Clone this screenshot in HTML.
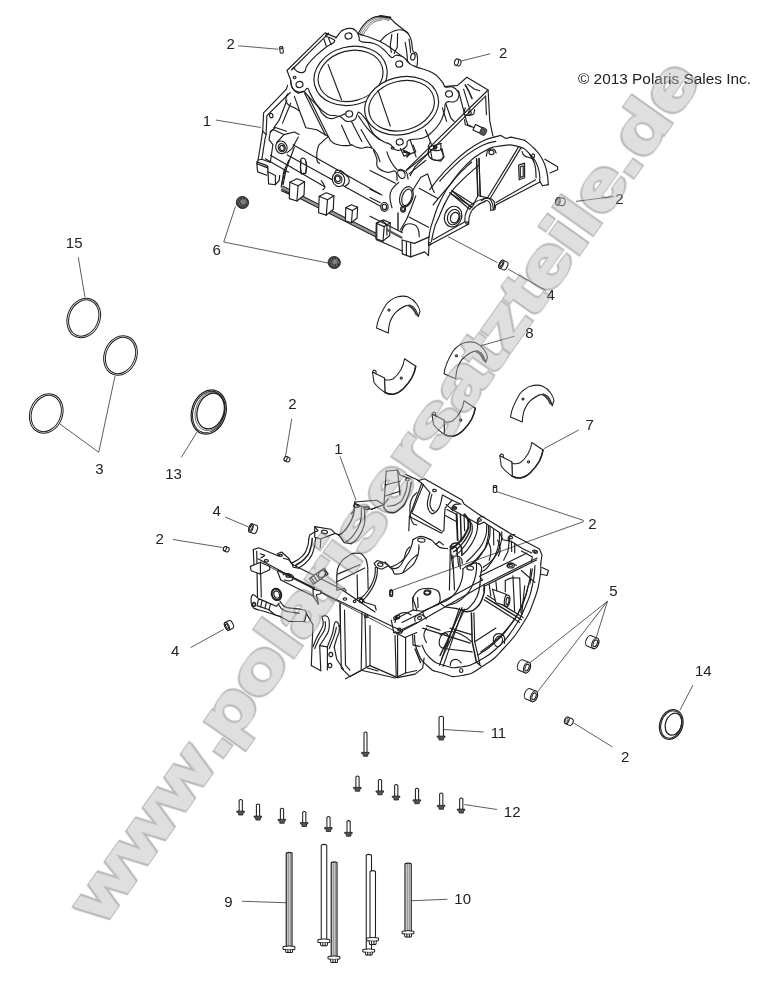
<!DOCTYPE html>
<html><head><meta charset="utf-8"><title>Crankcase</title>
<style>
html,body{margin:0;padding:0;background:#fff;}
body{width:767px;height:983px;overflow:hidden;font-family:"Liberation Sans",sans-serif;}
svg{display:block;filter:grayscale(1)}
.l{stroke:#1e1e1e;stroke-width:1.05;fill:none;stroke-linecap:round;stroke-linejoin:round}
.f{stroke:#1e1e1e;stroke-width:1.05;fill:#fff;stroke-linecap:round;stroke-linejoin:round}
.k{stroke:#222;stroke-width:1.5;fill:none;stroke-linecap:round;stroke-linejoin:round}
.ld{stroke:#333;stroke-width:0.8;fill:none}
#upper .l,#upper .f,#lower .l,#lower .f{stroke-width:1.15}
.t{font-family:"Liberation Sans",sans-serif;font-size:15px;fill:#222}
</style></head><body>
<svg width="767" height="983" viewBox="0 0 767 983">
<rect width="767" height="983" fill="#fff"/>

<g class="ld">
<line x1="238.25" y1="45.75" x2="278.25" y2="49.25"/>
<line x1="490.25" y1="53.75" x2="460.25" y2="61.25"/>
<line x1="215.75" y1="120" x2="260.75" y2="127.5"/>
<line x1="576" y1="201.4" x2="614.2" y2="196.5"/>
<line x1="223.75" y1="242" x2="235.5" y2="206.25"/>
<line x1="223.75" y1="242" x2="328" y2="263"/>
<line x1="508.2" y1="269.2" x2="545.7" y2="290.4"/>
<line x1="448" y1="236.6" x2="497.5" y2="262.7"/>
<line x1="78.25" y1="257.25" x2="85" y2="297.25"/>
<line x1="98.75" y1="452.25" x2="115" y2="376"/>
<line x1="98.75" y1="452.25" x2="59.25" y2="423.5"/>
<line x1="181.25" y1="457.5" x2="197.5" y2="431.25"/>
<line x1="291.75" y1="418.75" x2="285.5" y2="456.25"/>
<line x1="225" y1="517" x2="248.75" y2="527"/>
<line x1="173" y1="539.5" x2="222.5" y2="547.5"/>
<line x1="514.5" y1="336.25" x2="474.5" y2="347.5"/>
<line x1="578.75" y1="430" x2="543.75" y2="448.75"/>
<line x1="340" y1="456.3" x2="356" y2="500.3"/>
<line x1="583.75" y1="520.5" x2="497" y2="491.75"/>
<line x1="583.75" y1="521.5" x2="393" y2="590"/>
<line x1="607.5" y1="601.25" x2="596.25" y2="637.5"/>
<line x1="607.5" y1="601.25" x2="528.75" y2="663.75"/>
<line x1="607.5" y1="601.25" x2="537" y2="692.5"/>
<line x1="190.5" y1="647.7" x2="223.8" y2="629.3"/>
<line x1="573.75" y1="723" x2="612.5" y2="747"/>
<line x1="693" y1="685" x2="680" y2="710"/>
<line x1="443.75" y1="729.5" x2="483.75" y2="732"/>
<line x1="464.25" y1="804.5" x2="497" y2="809.5"/>
<line x1="242" y1="901.25" x2="286.25" y2="902.75"/>
<line x1="411.25" y1="900.75" x2="447.5" y2="899.25"/>
</g>
<g transform="translate(83.75,318) rotate(22)" class="l" style="stroke-width:1"><ellipse rx="16.2" ry="20.3"/><ellipse rx="14.5" ry="18.6"/></g>
<g transform="translate(120.5,355.5) rotate(22)" class="l" style="stroke-width:1"><ellipse rx="16.2" ry="20.3"/><ellipse rx="14.5" ry="18.6"/></g>
<g transform="translate(46.25,413.5) rotate(22)" class="l" style="stroke-width:1"><ellipse rx="16.2" ry="20.3"/><ellipse rx="14.5" ry="18.6"/></g>
<g transform="translate(208.75,412) rotate(18)" class="l"><ellipse rx="17" ry="22.6" style="stroke-width:1.2"/><ellipse rx="15.6" ry="21.2"/><ellipse cx="1.5" cy="-1.5" rx="13.2" ry="18.2" style="stroke-width:1.3"/><ellipse cx="1" cy="-1" rx="14.4" ry="19.6" style="stroke-width:.6"/></g>
<g transform="translate(671.25,724.5) rotate(18)" class="l"><ellipse rx="11.4" ry="15.2" style="stroke-width:1.2"/><ellipse rx="10.2" ry="14"/><ellipse cx="2" cy="-1" rx="8" ry="11.2" style="stroke-width:1.2"/></g>
<g transform="translate(281.5,50) rotate(82)" class="f"><path d="M-2.25,-1.6 L2.25,-1.6 A0.96,1.6 0 0 1 2.25,1.6 L-2.25,1.6 A0.96,1.6 0 0 1 -2.25,-1.6 Z"/><ellipse cx="-2.25" cy="0" rx="0.96" ry="1.6"/></g>
<g transform="translate(457.75,62.5) rotate(15)" class="f"><path d="M-1.25,-3.25 L1.25,-3.25 A1.95,3.25 0 0 1 1.25,3.25 L-1.25,3.25 A1.95,3.25 0 0 1 -1.25,-3.25 Z"/><ellipse cx="-1.25" cy="0" rx="1.95" ry="3.25"/></g>
<g transform="translate(560.4,201.7) rotate(8)" class="f"><path d="M-2.5,-3.75 L2.5,-3.75 A2.25,3.75 0 0 1 2.5,3.75 L-2.5,3.75 A2.25,3.75 0 0 1 -2.5,-3.75 Z"/><ellipse cx="-2.5" cy="0" rx="2.25" ry="3.75"/><ellipse cx="-2.5" cy="0" rx="1.125" ry="2.0625" style="stroke-width:.6"/></g>
<g transform="translate(287,459.25) rotate(25)" class="f"><path d="M-1.5,-2.3 L1.5,-2.3 A1.38,2.3 0 0 1 1.5,2.3 L-1.5,2.3 A1.38,2.3 0 0 1 -1.5,-2.3 Z"/><ellipse cx="-1.5" cy="0" rx="1.38" ry="2.3"/></g>
<g transform="translate(226.25,549.25) rotate(25)" class="f"><path d="M-1.5,-2.3 L1.5,-2.3 A1.38,2.3 0 0 1 1.5,2.3 L-1.5,2.3 A1.38,2.3 0 0 1 -1.5,-2.3 Z"/><ellipse cx="-1.5" cy="0" rx="1.38" ry="2.3"/></g>
<g transform="translate(495,489) rotate(90)" class="f"><path d="M-2.5,-1.7 L2.5,-1.7 A1.02,1.7 0 0 1 2.5,1.7 L-2.5,1.7 A1.02,1.7 0 0 1 -2.5,-1.7 Z"/><ellipse cx="-2.5" cy="0" rx="1.02" ry="1.7"/></g>
<g transform="translate(391.2,593.4) rotate(90)" class="f"><path d="M-2.25,-1.5 L2.25,-1.5 A0.8999999999999999,1.5 0 0 1 2.25,1.5 L-2.25,1.5 A0.8999999999999999,1.5 0 0 1 -2.25,-1.5 Z"/><ellipse cx="-2.25" cy="0" rx="0.8999999999999999" ry="1.5"/></g>
<g transform="translate(568.9,721.25) rotate(25)" class="f"><path d="M-2.25,-3.5 L2.25,-3.5 A2.1,3.5 0 0 1 2.25,3.5 L-2.25,3.5 A2.1,3.5 0 0 1 -2.25,-3.5 Z"/><ellipse cx="-2.25" cy="0" rx="2.1" ry="3.5"/><ellipse cx="-2.25" cy="0" rx="1.05" ry="1.9250000000000003" style="stroke-width:.6"/></g>
<g transform="translate(253,528.75) rotate(20)" class="f"><path d="M-2.15,-4.3 L2.365,-4.3 A1.935,4.3 0 0 1 2.365,4.3 L-2.15,4.3 A1.935,4.3 0 0 1 -2.15,-4.3 Z"/><ellipse cx="-2.15" cy="0" rx="1.935" ry="4.3"/><ellipse cx="-2.15" cy="0" rx="1.075" ry="2.5799999999999996"/></g>
<g transform="translate(503.3,265) rotate(25)" class="f"><path d="M-2.15,-4.3 L2.365,-4.3 A1.935,4.3 0 0 1 2.365,4.3 L-2.15,4.3 A1.935,4.3 0 0 1 -2.15,-4.3 Z"/><ellipse cx="-2.15" cy="0" rx="1.935" ry="4.3"/><ellipse cx="-2.15" cy="0" rx="1.075" ry="2.5799999999999996"/></g>
<g transform="translate(228.9,625.4) rotate(-25)" class="f"><path d="M-2.15,-4.3 L2.365,-4.3 A1.935,4.3 0 0 1 2.365,4.3 L-2.15,4.3 A1.935,4.3 0 0 1 -2.15,-4.3 Z"/><ellipse cx="-2.15" cy="0" rx="1.935" ry="4.3"/><ellipse cx="-2.15" cy="0" rx="1.075" ry="2.5799999999999996"/></g>
<g transform="translate(592,642) rotate(22)" class="f"><path d="M-3,-5.6 L3.5,-5.6 A3.2,5.6 0 0 1 3.5,5.6 L-3,5.6 A3.2,5.6 0 0 1 -3,-5.6 Z"/><ellipse cx="3.5" cy="0" rx="3.2" ry="5.6"/><ellipse cx="3.5" cy="0" rx="1.9" ry="3.6"/></g>
<g transform="translate(523.75,666.25) rotate(22)" class="f"><path d="M-3,-5.6 L3.5,-5.6 A3.2,5.6 0 0 1 3.5,5.6 L-3,5.6 A3.2,5.6 0 0 1 -3,-5.6 Z"/><ellipse cx="3.5" cy="0" rx="3.2" ry="5.6"/><ellipse cx="3.5" cy="0" rx="1.9" ry="3.6"/></g>
<g transform="translate(530.75,695) rotate(22)" class="f"><path d="M-3,-5.6 L3.5,-5.6 A3.2,5.6 0 0 1 3.5,5.6 L-3,5.6 A3.2,5.6 0 0 1 -3,-5.6 Z"/><ellipse cx="3.5" cy="0" rx="3.2" ry="5.6"/><ellipse cx="3.5" cy="0" rx="1.9" ry="3.6"/></g>
<g transform="translate(242.5,202.5)"><ellipse rx="6.2" ry="6" fill="#3a3a3a" stroke="#222" stroke-width="0.8" transform="rotate(20)"/><ellipse cx="0.8" cy="-0.6" rx="3.3" ry="3.2" fill="#777" stroke="#111" stroke-width="0.7"/><path d="M-4.5,-2 L-2,3.5 M-3,-4 L0.5,4.8 M-0.5,-5 L3,4 M2,-5 L5,1.5" stroke="#999" stroke-width="0.6" fill="none"/></g>
<g transform="translate(334.25,262.5)"><ellipse rx="6.2" ry="6" fill="#3a3a3a" stroke="#222" stroke-width="0.8" transform="rotate(20)"/><ellipse cx="0.8" cy="-0.6" rx="3.3" ry="3.2" fill="#777" stroke="#111" stroke-width="0.7"/><path d="M-4.5,-2 L-2,3.5 M-3,-4 L0.5,4.8 M-0.5,-5 L3,4 M2,-5 L5,1.5" stroke="#999" stroke-width="0.6" fill="none"/></g>
<g transform="translate(376.5,328)"><path class="f" d="M0,0 C0.5,-5 1.75,-10.5 9.25,-23 C13,-27.5 17,-30 20.5,-31 C24,-32 28,-32.3 31.75,-31 C36,-29 38.5,-26.5 40,-24.25 C42,-21.5 43,-19 43.5,-16.75 L41.75,-11.25 C41,-14 40.3,-16 39.25,-18 C38,-20.5 36,-22 34.25,-22.5 C31.5,-23 29,-22.3 26.75,-21 C23,-19 20,-16.5 18,-14.25 C15,-10 13.6,-7 13,-4.25 C12.2,-1 11.9,2 11.75,5 Z"/><path class="l" d="M31,-22.6 C34,-21.6 37,-19 39.5,-13.5 M33,-23 C36,-21 38.5,-18 40.8,-12.5" style="stroke-width:1.4;stroke:#444"/><path class="l" d="M13.5,-6 C16,-14 22,-20 30,-22.5" style="stroke-width:.6"/><circle class="l" cx="12.5" cy="-18" r="1"/></g>
<g transform="translate(444,373.75)"><path class="f" d="M0,0 C0.5,-5 1.75,-10.5 9.25,-23 C13,-27.5 17,-30 20.5,-31 C24,-32 28,-32.3 31.75,-31 C36,-29 38.5,-26.5 40,-24.25 C42,-21.5 43,-19 43.5,-16.75 L41.75,-11.25 C41,-14 40.3,-16 39.25,-18 C38,-20.5 36,-22 34.25,-22.5 C31.5,-23 29,-22.3 26.75,-21 C23,-19 20,-16.5 18,-14.25 C15,-10 13.6,-7 13,-4.25 C12.2,-1 11.9,2 11.75,5 Z"/><path class="l" d="M31,-22.6 C34,-21.6 37,-19 39.5,-13.5 M33,-23 C36,-21 38.5,-18 40.8,-12.5" style="stroke-width:1.4;stroke:#444"/><path class="l" d="M13.5,-6 C16,-14 22,-20 30,-22.5" style="stroke-width:.6"/><circle class="l" cx="12.5" cy="-18" r="1"/></g>
<g transform="translate(510.5,417)"><path class="f" d="M0,0 C0.5,-5 1.75,-10.5 9.25,-23 C13,-27.5 17,-30 20.5,-31 C24,-32 28,-32.3 31.75,-31 C36,-29 38.5,-26.5 40,-24.25 C42,-21.5 43,-19 43.5,-16.75 L41.75,-11.25 C41,-14 40.3,-16 39.25,-18 C38,-20.5 36,-22 34.25,-22.5 C31.5,-23 29,-22.3 26.75,-21 C23,-19 20,-16.5 18,-14.25 C15,-10 13.6,-7 13,-4.25 C12.2,-1 11.9,2 11.75,5 Z"/><path class="l" d="M31,-22.6 C34,-21.6 37,-19 39.5,-13.5 M33,-23 C36,-21 38.5,-18 40.8,-12.5" style="stroke-width:1.4;stroke:#444"/><path class="l" d="M13.5,-6 C16,-14 22,-20 30,-22.5" style="stroke-width:.6"/><circle class="l" cx="12.5" cy="-18" r="1"/></g>
<g transform="translate(372.5,372)"><path class="f" d="M12,6 L12.5,20.5 C15,21.8 18,22.4 20.75,22.25 C24.5,21.5 28,19.5 30.75,16.75 C34.5,13 37.5,9 39.5,5.5 C41.5,1.5 42.7,-2.5 43.25,-5.75 L32,-13.25 C31.5,-9 30.3,-5.5 28.25,-2 C26,1.8 23.5,4.8 20.75,6.75 C18,8.3 15,8.3 12,7.5 Z"/><path class="f" d="M0,0 L12,6 L12.5,20.5 C8,17.5 4,14 1.5,10.5 Z"/><path class="k" d="M12.5,20.5 C15,21.8 18,22.4 20.75,22.25 C24.5,21.5 28,19.5 30.75,16.75 C34.5,13 37.5,9 39.5,5.5 C41.5,1.5 42.7,-2.5 43.25,-5.75"/><path class="l" d="M0,0 L1.5,-2 L3.5,-1 L3.5,1.7"/><circle class="l" cx="28.75" cy="6" r="1.1"/></g>
<g transform="translate(432,414)"><path class="f" d="M12,6 L12.5,20.5 C15,21.8 18,22.4 20.75,22.25 C24.5,21.5 28,19.5 30.75,16.75 C34.5,13 37.5,9 39.5,5.5 C41.5,1.5 42.7,-2.5 43.25,-5.75 L32,-13.25 C31.5,-9 30.3,-5.5 28.25,-2 C26,1.8 23.5,4.8 20.75,6.75 C18,8.3 15,8.3 12,7.5 Z"/><path class="f" d="M0,0 L12,6 L12.5,20.5 C8,17.5 4,14 1.5,10.5 Z"/><path class="k" d="M12.5,20.5 C15,21.8 18,22.4 20.75,22.25 C24.5,21.5 28,19.5 30.75,16.75 C34.5,13 37.5,9 39.5,5.5 C41.5,1.5 42.7,-2.5 43.25,-5.75"/><path class="l" d="M0,0 L1.5,-2 L3.5,-1 L3.5,1.7"/><circle class="l" cx="28.75" cy="6" r="1.1"/></g>
<g transform="translate(499.8,455.75)"><path class="f" d="M12,6 L12.5,20.5 C15,21.8 18,22.4 20.75,22.25 C24.5,21.5 28,19.5 30.75,16.75 C34.5,13 37.5,9 39.5,5.5 C41.5,1.5 42.7,-2.5 43.25,-5.75 L32,-13.25 C31.5,-9 30.3,-5.5 28.25,-2 C26,1.8 23.5,4.8 20.75,6.75 C18,8.3 15,8.3 12,7.5 Z"/><path class="f" d="M0,0 L12,6 L12.5,20.5 C8,17.5 4,14 1.5,10.5 Z"/><path class="k" d="M12.5,20.5 C15,21.8 18,22.4 20.75,22.25 C24.5,21.5 28,19.5 30.75,16.75 C34.5,13 37.5,9 39.5,5.5 C41.5,1.5 42.7,-2.5 43.25,-5.75"/><path class="l" d="M0,0 L1.5,-2 L3.5,-1 L3.5,1.7"/><circle class="l" cx="28.75" cy="6" r="1.1"/></g>
<g class="f"><path d="M239.15,810.8 L239.15,800.3 Q240.75,798.7 242.35,800.3 L242.35,810.8" /><path d="M237.15,811.0999999999999 L244.35,811.0999999999999 L244.35,812.4 L243.126,812.5999999999999 L242.91,815 L238.59,815 L238.374,812.5999999999999 L237.15,812.4 Z" fill="#555" style="stroke-width:.8"/></g>
<g class="f"><path d="M256.4,815.8 L256.4,804.8 Q258,803.2 259.6,804.8 L259.6,815.8" /><path d="M254.4,816.0999999999999 L261.6,816.0999999999999 L261.6,817.4 L260.376,817.5999999999999 L260.16,820 L255.84,820 L255.624,817.5999999999999 L254.4,817.4 Z" fill="#555" style="stroke-width:.8"/></g>
<g class="f"><path d="M280.4,819.05 L280.4,809.05 Q282,807.45 283.6,809.05 L283.6,819.05" /><path d="M278.4,819.3499999999999 L285.6,819.3499999999999 L285.6,820.65 L284.376,820.8499999999999 L284.16,823.25 L279.84,823.25 L279.624,820.8499999999999 L278.4,820.65 Z" fill="#555" style="stroke-width:.8"/></g>
<g class="f"><path d="M302.65,822.3 L302.65,812.3 Q304.25,810.7 305.85,812.3 L305.85,822.3" /><path d="M300.65,822.5999999999999 L307.85,822.5999999999999 L307.85,823.9 L306.626,824.0999999999999 L306.41,826.5 L302.09,826.5 L301.874,824.0999999999999 L300.65,823.9 Z" fill="#555" style="stroke-width:.8"/></g>
<g class="f"><path d="M326.9,827.3 L326.9,817.3 Q328.5,815.7 330.1,817.3 L330.1,827.3" /><path d="M324.9,827.5999999999999 L332.1,827.5999999999999 L332.1,828.9 L330.876,829.0999999999999 L330.66,831.5 L326.34,831.5 L326.124,829.0999999999999 L324.9,828.9 Z" fill="#555" style="stroke-width:.8"/></g>
<g class="f"><path d="M347.0,832.05 L347.0,821.4 Q348.6,819.8000000000001 350.20000000000005,821.4 L350.20000000000005,832.05" /><path d="M345.0,832.3499999999999 L352.20000000000005,832.3499999999999 L352.20000000000005,833.65 L350.976,833.8499999999999 L350.76000000000005,836.25 L346.44,836.25 L346.22400000000005,833.8499999999999 L345.0,833.65 Z" fill="#555" style="stroke-width:.8"/></g>
<g class="f"><path d="M355.9,787.05 L355.9,776.8 Q357.5,775.2 359.1,776.8 L359.1,787.05" /><path d="M353.9,787.3499999999999 L361.1,787.3499999999999 L361.1,788.65 L359.876,788.8499999999999 L359.66,791.25 L355.34,791.25 L355.124,788.8499999999999 L353.9,788.65 Z" fill="#555" style="stroke-width:.8"/></g>
<g class="f"><path d="M378.4,790.5999999999999 L378.4,780.3 Q380,778.7 381.6,780.3 L381.6,790.5999999999999" /><path d="M376.4,790.8999999999999 L383.6,790.8999999999999 L383.6,792.1999999999999 L382.376,792.3999999999999 L382.16,794.8 L377.84,794.8 L377.624,792.3999999999999 L376.4,792.1999999999999 Z" fill="#555" style="stroke-width:.8"/></g>
<g class="f"><path d="M394.65,795.8 L394.65,785.3 Q396.25,783.7 397.85,785.3 L397.85,795.8" /><path d="M392.65,796.0999999999999 L399.85,796.0999999999999 L399.85,797.4 L398.626,797.5999999999999 L398.41,800 L394.09,800 L393.874,797.5999999999999 L392.65,797.4 Z" fill="#555" style="stroke-width:.8"/></g>
<g class="f"><path d="M415.4,799.55 L415.4,789.05 Q417,787.45 418.6,789.05 L418.6,799.55" /><path d="M413.4,799.8499999999999 L420.6,799.8499999999999 L420.6,801.15 L419.376,801.3499999999999 L419.16,803.75 L414.84,803.75 L414.624,801.3499999999999 L413.4,801.15 Z" fill="#555" style="stroke-width:.8"/></g>
<g class="f"><path d="M439.65,805.05 L439.65,793.8 Q441.25,792.2 442.85,793.8 L442.85,805.05" /><path d="M437.65,805.3499999999999 L444.85,805.3499999999999 L444.85,806.65 L443.626,806.8499999999999 L443.41,809.25 L439.09,809.25 L438.874,806.8499999999999 L437.65,806.65 Z" fill="#555" style="stroke-width:.8"/></g>
<g class="f"><path d="M459.65,808.8 L459.65,798.8 Q461.25,797.2 462.85,798.8 L462.85,808.8" /><path d="M457.65,809.0999999999999 L464.85,809.0999999999999 L464.85,810.4 L463.626,810.5999999999999 L463.41,813 L459.09,813 L458.874,810.5999999999999 L457.65,810.4 Z" fill="#555" style="stroke-width:.8"/></g>
<g class="f"><path d="M364.0,752.05 L364.0,732.8 Q365.5,731.2 367.0,732.8 L367.0,752.05" /><path d="M361.9,752.3499999999999 L369.1,752.3499999999999 L369.1,753.65 L367.876,753.8499999999999 L367.66,756.25 L363.34,756.25 L363.124,753.8499999999999 L361.9,753.65 Z" fill="#555" style="stroke-width:.8"/></g>
<g class="f"><path d="M439.05,735.8 L439.05,717.05 Q441.25,715.45 443.45,717.05 L443.45,735.8" /><path d="M437.5,736.0999999999999 L445.0,736.0999999999999 L445.0,737.4 L443.725,737.5999999999999 L443.5,740 L439.0,740 L438.775,737.5999999999999 L437.5,737.4 Z" fill="#555" style="stroke-width:.8"/></g>
<g class="f"><path d="M286.25,946.5 L286.25,853.1 Q289.125,851.7 292,853.1 L292,946.5" style="stroke-width:1.2"/><line x1="288.125" y1="853.5" x2="288.125" y2="946.5" style="stroke-width:.7"/><line x1="290.125" y1="853.5" x2="290.125" y2="946.5" style="stroke-width:.7"/><path d="M283.375,946.5 Q289.125,945.3 294.875,946.5 L294.875,949.5 Q289.125,950.5 283.375,949.5 Z" style="stroke-width:1"/><path d="M285.525,949.9 L285.925,952.5 L292.325,952.5 L292.725,949.9" style="stroke-width:1"/><line x1="287.925" y1="950.1" x2="287.925" y2="952.5"/><line x1="290.325" y1="950.1" x2="290.325" y2="952.5"/></g>
<g class="f"><path d="M321.25,939.5 L321.25,845.1 Q324.0,843.7 326.75,845.1 L326.75,939.5" /><path d="M318.25,939.5 Q324.0,938.3 329.75,939.5 L329.75,942.5 Q324.0,943.5 318.25,942.5 Z" style="stroke-width:1"/><path d="M320.4,942.9 L320.8,945.75 L327.2,945.75 L327.6,942.9" style="stroke-width:1"/><line x1="322.8" y1="943.1" x2="322.8" y2="945.75"/><line x1="325.2" y1="943.1" x2="325.2" y2="945.75"/></g>
<g class="f"><path d="M366.25,949.5 L366.25,855.1 Q368.875,853.7 371.5,855.1 L371.5,949.5" /><path d="M363.125,949.5 Q368.875,948.3 374.625,949.5 L374.625,952 Q368.875,953 363.125,952 Z" style="stroke-width:1"/><path d="M365.275,952.4 L365.675,955 L372.075,955 L372.475,952.4" style="stroke-width:1"/><line x1="367.675" y1="952.6" x2="367.675" y2="955"/><line x1="370.075" y1="952.6" x2="370.075" y2="955"/></g>
<g class="f"><path d="M370,938 L370,871.35 Q372.75,869.95 375.5,871.35 L375.5,938" /><path d="M367.0,938 Q372.75,936.8 378.5,938 L378.5,940.75 Q372.75,941.75 367.0,940.75 Z" style="stroke-width:1"/><path d="M369.15,941.15 L369.55,944.5 L375.95,944.5 L376.35,941.15" style="stroke-width:1"/><line x1="371.55" y1="941.35" x2="371.55" y2="944.5"/><line x1="373.95" y1="941.35" x2="373.95" y2="944.5"/></g>
<g class="f"><path d="M331.25,956.5 L331.25,862.6 Q334.125,861.2 337,862.6 L337,956.5" style="stroke-width:1.2"/><line x1="333.125" y1="863" x2="333.125" y2="956.5" style="stroke-width:.7"/><line x1="335.125" y1="863" x2="335.125" y2="956.5" style="stroke-width:.7"/><path d="M328.375,956.5 Q334.125,955.3 339.875,956.5 L339.875,959 Q334.125,960 328.375,959 Z" style="stroke-width:1"/><path d="M330.525,959.4 L330.925,962.5 L337.325,962.5 L337.725,959.4" style="stroke-width:1"/><line x1="332.925" y1="959.6" x2="332.925" y2="962.5"/><line x1="335.325" y1="959.6" x2="335.325" y2="962.5"/></g>
<g class="f"><path d="M405,931.25 L405,863.85 Q408.125,862.45 411.25,863.85 L411.25,931.25" style="stroke-width:1.2"/><line x1="407.125" y1="864.25" x2="407.125" y2="931.25" style="stroke-width:.7"/><line x1="409.125" y1="864.25" x2="409.125" y2="931.25" style="stroke-width:.7"/><path d="M402.375,931.25 Q408.125,930.05 413.875,931.25 L413.875,933.75 Q408.125,934.75 402.375,933.75 Z" style="stroke-width:1"/><path d="M404.525,934.15 L404.925,937 L411.325,937 L411.725,934.15" style="stroke-width:1"/><line x1="406.925" y1="934.35" x2="406.925" y2="937"/><line x1="409.325" y1="934.35" x2="409.325" y2="937"/></g>
<g id="upper">
<path class="f" d="M358.2,33.6 C359.1,32.1 360.4,28.8 362.9,25.8 C365.4,22.8 367.2,20.7 370.7,18.8 C374.1,16.8 376.3,16.3 380.1,16.1 C383.8,16 386.3,16.5 389.5,18 C392.6,19.5 392.9,21.1 395.7,23.5 C398.5,25.8 401,27.7 403.6,29.7 C406.1,31.8 406.7,31.5 408.2,33.6 C409.8,35.8 410.4,37.2 411.4,40.7 C412.3,44.1 411.8,48.2 412.9,50.9 C414,53.5 416,51.3 416.9,54 C417.7,56.7 417.6,61.7 417.3,64.2 C417,66.7 416.8,66.2 415.3,66.5 C413.8,66.8 411.4,66.8 409.8,65.7 C408.2,64.6 410.3,63.8 407.5,61 C404.6,58.2 401.2,55.6 395.7,51.6 C390.3,47.7 387.6,45.1 380.1,41.5 C372.6,37.9 362.6,35.2 358.2,33.6"/>
<path class="l" d="M380.1,41.5 C381.7,39.8 382.6,38 386.3,35.2 C390.1,32.4 390,32.4 394.2,31 C398.3,29.6 398.2,29.3 402,30 C405.7,30.8 406.6,32.7 408.2,33.6"/>
<path class="l" d="M359.4,34.7 C360.7,32.7 360.9,30.8 364.1,26.9 C367.4,23 367.3,22.5 371.6,20 C376,17.5 375.7,17.7 380.4,17.5 C385.1,17.4 386.8,18.9 389.2,19.4" style="stroke-width:.6"/>
<path class="l" d="M361,35.4 C362.2,33.4 362.6,31.6 365.7,27.9 C368.8,24.1 368.5,23.7 372.6,21.3 C376.7,18.9 376.7,18.9 381,18.8 C385.4,18.6 386.8,20.2 388.8,20.7" style="stroke-width:.6"/>
<path class="l" d="M362.6,36 C363.7,34.2 364,32.7 366.9,29.1 C369.9,25.5 369.6,25 373.5,22.5 C377.4,20.1 379.5,20.7 381.6,20" style="stroke-width:.6"/>
<path class="l" d="M380.1,16.1 L390.3,17.5" style="stroke-width:2"/>
<path class="l" d="M391.8,34.4 L390.3,45.4 L391.3,52.4"/>
<path class="l" d="M397.6,33.6 L397.3,46.9 L394.2,53.5"/>
<path class="l" d="M405.1,42.3 C405.5,44.8 406.1,46.6 406.7,51.6 C407.3,56.7 407.3,58.5 407.5,61"/>
<path class="l" d="M409,39.1 C409.3,41.2 409.7,43.4 410.1,46.9 C410.5,50.5 410.5,51 410.6,52.4"/>
<ellipse class="l" cx="412.9" cy="56.7" rx="2.2" ry="3.4" transform="rotate(10 412.9 56.7)"/>
<path class="f" d="M336.3,37.6 C336.3,37.6 335.4,38.9 336.3,37.6 C337.3,36.3 338,35 339.8,32.9 C341.7,30.8 340.5,31 343.4,29.9 C346.2,28.7 347,28.1 350.4,28.4 C353.8,28.8 354,29 356.3,31.3 C358.6,33.5 357.8,34.1 359.1,36.9 C360.3,39.7 357,39.8 361,41.6 C364.9,43.3 367.9,41.4 373.9,43.5 C379.8,45.5 379.2,46.2 383.3,49.3 C387.3,52.5 386.6,53 389.1,55.2 C391.6,57.4 390.8,57.5 392.6,57.5 C394.5,57.5 393.4,55.3 396.2,55.2 C399,55.1 399.9,55.1 403.2,57.1 C406.5,59.1 405.2,60.1 408.6,62.7 C412.1,65.3 409.7,64.2 416.1,66.9 C422.5,69.6 425.7,68.9 432.5,72.8 C439.4,76.7 438.5,77.7 441.9,81.5 C445.4,85.2 442.6,85.4 445.5,86.9 C448.3,88.3 449.2,85.6 452.5,86.9 C455.8,88.1 456.3,88.8 457.9,91.6 C459.5,94.4 459.4,94.8 458.4,97.4 C457.4,100.1 457.4,100.3 454.1,101.7 C450.9,103 448.8,100 446.2,102.6 C443.5,105.2 446,106 444.3,111.5 C442.5,117 443.3,117.3 439.6,123.3 C435.8,129.2 435.2,129.8 430.2,133.8 C425.2,137.9 426.6,136.8 420.8,138.5 C415.1,140.2 412.4,138.3 408.6,140.2 C404.9,142 408.5,143.1 406.7,145.6 C405,148.1 405.2,148.5 402,149.5 C398.9,150.6 398.1,150.9 395,149.5 C391.9,148.2 393.4,146.5 390.3,144.4 C387.2,142.3 387.3,143.9 383.3,141.6 C379.2,139.2 378.5,139 375,135.5 C371.6,132 372.5,132.3 370.4,128.4 C368.2,124.5 369.7,125.1 366.8,120.9 C364,116.7 362.4,114.3 359.8,112.7 C357.2,111.1 358.4,113.2 357,115 C355.6,116.9 357.3,118.1 354.6,119.7 C351.9,121.4 350.4,122 346.9,121.4 C343.4,120.8 344.3,118.9 341.5,117.4 C338.7,115.9 340.2,116.7 336.3,115.8 C332.4,114.8 331.9,116.6 326.9,113.9 C321.9,111.2 321.9,111 317.5,105.7 C313.2,100.3 313.1,98.5 310.5,93.9 C307.9,89.4 309.6,89.2 307.7,88.5 C305.8,87.9 306.2,90.7 303.5,91.6 C300.8,92.5 300.6,92.9 297.6,91.8 C294.6,90.8 294.1,90.8 292.2,87.6 C290.3,84.4 291,81.9 290.6,79.8 C290.1,77.8 290.6,79.8 290.6,79.8 L287,70.5 L325.1,32.9 Z"/>
<ellipse class="l" cx="350.6" cy="75.9" rx="32.9" ry="25.1" transform="rotate(-15 350.6 75.9)"/>
<ellipse class="l" cx="350.6" cy="75.9" rx="37.1" ry="29.1" transform="rotate(-15 350.6 75.9)"/>
<ellipse class="f" cx="401.6" cy="105.7" rx="37.5" ry="28.6" transform="rotate(-15 401.6 105.7)"/>
<ellipse class="l" cx="401.6" cy="105.7" rx="33.3" ry="24.6" transform="rotate(-15 401.6 105.7)"/>
<ellipse class="l" cx="348.5" cy="36" rx="3.5" ry="3.1" transform="rotate(-10 348.5 36)"/>
<ellipse class="l" cx="299.5" cy="84.5" rx="3.5" ry="3.1" transform="rotate(-10 299.5 84.5)"/>
<ellipse class="l" cx="399.2" cy="64.1" rx="3.5" ry="3.1" transform="rotate(-10 399.2 64.1)"/>
<ellipse class="l" cx="349.2" cy="113.9" rx="3.5" ry="3.1" transform="rotate(-10 349.2 113.9)"/>
<ellipse class="l" cx="449" cy="93.9" rx="3.5" ry="3.1" transform="rotate(-10 449 93.9)"/>
<ellipse class="l" cx="399.7" cy="142" rx="3.5" ry="3.1" transform="rotate(-10 399.7 142)"/>
<ellipse class="l" cx="294.6" cy="77.5" rx="1.4" ry="1.2" transform="rotate(0 294.6 77.5)"/>
<ellipse class="l" cx="392.6" cy="147.9" rx="1.4" ry="1.2" transform="rotate(0 392.6 147.9)"/>
<ellipse class="l" cx="434.9" cy="147.9" rx="1.4" ry="1.2" transform="rotate(0 434.9 147.9)"/>
<path class="l" d="M294.6,67 C294.5,66.3 287.4,74.1 294.6,67 C301.8,59.8 318.4,43.5 325.6,36.4 C332.9,29.3 324.1,35.9 325.6,36.4 C327.1,36.9 330,37.4 332,38.7 C334,40 335.6,40 334.3,41.9 C333,43.8 330.7,43.8 326.5,46.9 C322.4,50 321,50.9 316.5,55.1 C312,59.4 310.1,61.3 307.4,65.1 C304.6,69 306.4,69.8 304.6,71.5 C302.8,73.2 301.9,72.9 299.6,72.4 C297.4,72 296.2,71 295.1,69.7 C293.9,68.4 294.7,67.6 294.6,67 Z"/>
<path class="l" d="M323.8,38.7 L326.5,46.9"/>
<path class="l" d="M328.4,37.8 L331.1,44.6"/>
<path class="l" d="M328.1,64.6 L341.5,99.8"/>
<path class="l" d="M378.1,90.4 L390.3,126.1"/>
<path class="l" d="M287.6,85.4 L286.4,89.2 L263.6,112.9 L262.7,131.2 L261.5,138.8 L258.1,160 L256.8,163.7 L268.3,168.1 L267.8,173.2"/>
<path class="l" d="M290.3,92.5 L266.9,115.6 L266.1,134.6 L264.9,139.7 L261.9,159.2"/>
<path class="l" d="M262.7,131.2 L266.1,134.6"/>
<ellipse class="l" cx="271.2" cy="115.6" rx="1.7" ry="2.2" transform="rotate(-20 271.2 115.6)"/>
<path class="l" d="M258.1,160 L261.9,159.2 L270.3,162.5 L272.9,144.7 L269,139.7 L270.3,132 L275.4,127.5 L286.4,131.2"/>
<path class="l" d="M256.8,163.7 L257.6,171.9 L266.9,175.3"/>
<path class="l" d="M286.9,100.3 L279.2,120.2 L273.7,127.8"/>
<path class="l" d="M290.7,103.2 L282.5,123.1"/>
<path class="l" d="M287.6,93.9 C287.1,95.6 285.8,95.5 285.9,99 C286.1,102.5 285.3,101.5 288.1,104.4 C291,107.3 290.7,105.6 294.4,107.8 C298.1,109.9 297.6,109.8 299.2,110.8"/>
<path class="l" d="M294.4,96.4 L300.8,114.2 L305.9,127.8 L316.9,129.8 L324.6,134.6"/>
<path class="l" d="M304.6,93.2 L325.4,134.9"/>
<path class="l" d="M308.5,96.4 L328.3,136.6"/>
<path class="l" d="M328.3,136.6 C326.2,138.5 325.5,138.4 322,142.2 C318.5,146 319.5,142.5 317.8,148.1 C316.1,153.8 316.4,154.1 316.9,159.2 C317.5,164.2 318.6,162 319.5,163.4"/>
<path class="l" d="M324.6,134.6 C325.8,135.3 326,134.4 328.3,136.6 C330.6,138.9 328.1,138.6 331.4,141.4 C334.6,144.1 332.8,143.3 338.1,144.7 C343.5,146.2 342.9,145.6 347.5,145.6 C352,145.6 350.3,145 351.7,144.7"/>
<path class="l" d="M341.5,125.3 L350.3,144.7"/>
<path class="l" d="M351.7,121.9 L361.9,141.4"/>
<path class="l" d="M361,129.5 L366.9,139.7 L372,148.1"/>
<path class="l" d="M351.7,144.7 C354.5,145.9 354.5,147.3 360.2,148.1 C365.8,149 363.6,146.2 368.6,147.3 C373.7,148.4 371.6,146.7 375.4,151.5 C379.2,156.3 378.5,158.3 380,161.7"/>
<path class="l" d="M290.7,80.3 C291.1,82.1 290.6,85 292.4,88 C294.2,90.9 295.7,92.3 298.3,93.1 C300.9,93.8 301,90.6 303.4,91.4 C305.8,92.1 305.1,92.9 308.5,96.4 C311.8,100 314.4,102.5 317.8,106.6 C321.2,110.8 320.1,111.5 322.9,114.2 C325.6,117 326.1,117.9 329.7,118.5 C333.2,119.1 334.6,117.8 338.1,116.8 C341.7,115.7 343.3,114.6 344.9,113.9"/>
<path class="l" d="M358.5,115.9 C360.5,118.7 363,123.1 366.9,127.8 C370.9,132.5 372.4,133.5 375.4,136.3 C378.5,139 378.9,138.9 380,139.7"/>
<ellipse class="f" cx="281.4" cy="147.3" rx="5.6" ry="6.4" transform="rotate(-20 281.4 147.3)"/>
<ellipse class="l" cx="281.7" cy="147.6" rx="3.4" ry="4.1" transform="rotate(-20 281.7 147.6)"/>
<ellipse class="l" cx="282" cy="148" rx="2.2" ry="2.7" transform="rotate(-20 282 148)"/>
<path class="l" d="M276.8,142.5 L283.9,134.6 L294.4,132 L299.2,134.6"/>
<path class="l" d="M286.9,152.9 L292.4,148.1 L298.3,137.1"/>
<path class="l" d="M270.3,132 L272.9,129.5 L283.9,134.6"/>
<path class="l" d="M293.2,144.7 L380,193.9"/>
<path class="l" d="M287.3,154.9 L380,206.1"/>
<path class="l" d="M289,160 L283.9,171 L281.4,185.4"/>
<path class="l" d="M294.4,147.3 L286.4,168.5 L283.1,184.6"/>
<path class="l" d="M300.8,159.2 C300.8,163.1 300,166.3 300.8,171 C301.7,175.7 301.7,173.2 303.4,173.2 C305.1,173.2 305.1,174.9 305.9,171 C306.8,167.2 306.8,165.9 305.9,161.7 C305.1,157.5 305.1,159.2 303.4,158.3 C301.7,157.5 301.7,158.9 300.8,159.2"/>
<ellipse class="f" cx="338.5" cy="179.5" rx="6.1" ry="7.1" transform="rotate(-20 338.5 179.5)"/>
<ellipse class="l" cx="338.1" cy="179.2" rx="3.7" ry="4.4" transform="rotate(-20 338.1 179.2)"/>
<ellipse class="l" cx="337.8" cy="178.8" rx="2.4" ry="2.9" transform="rotate(-20 337.8 178.8)"/>
<path class="l" d="M334.7,172.7 C335.9,171.9 334.7,169.8 338.1,170.2 C341.5,170.6 341.2,170.2 344.9,173.9 C348.6,177.6 349.2,177.1 349.2,181.2 C349.2,185.3 346.3,184.6 344.9,186.3"/>
<path class="l" d="M256.8,161.9 L266.9,165.6 L268.3,168.6" style="stroke-width:1.4"/>
<path class="l" d="M282.2,187.8 L380,237.1" style="stroke-width:2.4;stroke:#999"/>
<path class="l" d="M282.9,186.3 L380,235.3"/>
<path class="l" d="M281.7,189.3 L380,239"/>
<path class="l" d="M281.4,190.7 L289.8,194.4"/>
<path class="l" d="M270.5,155.3 L325.1,186.9"/>
<path class="l" d="M265.3,158.8 L288.6,172.2"/>
<path class="l" d="M285.3,169.3 L281.2,186.9"/>
<path class="f" d="M267.8,166.6 L268.6,183.9 L275.4,184.7 L279.2,180.5 L279.7,175.4"/>
<path class="l" d="M268.6,172 L275.4,175.4 L275.4,184.7"/>
<path class="f" d="M289.8,182.2 L296.9,178.7 L304.6,181.7 L304,195.2 L296.9,201 L289.3,198.6 Z"/>
<path class="l" d="M289.8,182.2 L298.1,185.8 L304.6,181.7"/>
<path class="l" d="M298.1,185.8 L296.9,201"/>
<path class="f" d="M319.2,196.3 L326.3,192.8 L333.9,195.8 L333.3,209.2 L326.3,215.1 L318.6,212.7 Z"/>
<path class="l" d="M319.2,196.3 L327.5,199.8 L333.9,195.8"/>
<path class="l" d="M327.5,199.8 L326.3,215.1"/>
<path class="f" d="M345.8,207.6 L351.5,204.8 L357.6,207.2 L357.1,218 L351.5,222.7 L345.4,220.8 Z"/>
<path class="l" d="M345.8,207.6 L352.4,210.5 L357.6,207.2"/>
<path class="l" d="M352.4,210.5 L351.5,222.7"/>
<path class="f" d="M376.3,223.2 L383,219.9 L390.3,222.7 L389.7,235.5 L383,241.1 L375.8,238.8 Z"/>
<path class="l" d="M376.3,223.2 L384.2,226.6 L390.3,222.7"/>
<path class="l" d="M384.2,226.6 L383,241.1"/>
<path class="l" d="M300.8,160.2 C300.8,163.8 300,166.8 300.8,171.2 C301.7,175.6 301.6,173.4 303.4,173.4 C305.2,173.4 305.3,175 306.3,171.2 C307.2,167.3 306.3,165 306.3,161.9"/>
<path class="l" d="M321.2,180.5 C322.3,182.5 324,183.3 324.6,186.4 C325.1,189.5 323.4,188.7 322.9,189.8"/>
<path class="l" d="M444.4,86.6 L457.6,85.4 L466.9,77.3 L488.1,90 L406.8,169.7"/>
<path class="l" d="M484.7,96.8 L415.3,166.3 L410.2,175.6"/>
<path class="l" d="M488.1,90 L489.8,121.4 L492.9,135.8"/>
<path class="l" d="M485.6,95.9 L486.4,114.6"/>
<ellipse class="l" cx="469.8" cy="112.9" rx="1.5" ry="1.5" transform="rotate(0 469.8 112.9)"/>
<ellipse class="l" cx="435.1" cy="147.1" rx="1.5" ry="1.5" transform="rotate(0 435.1 147.1)"/>
<path class="l" d="M465.3,107.8 C465.1,109.2 462.9,113.2 464.4,114.6 C465.9,115.9 470.8,115.6 472.9,114.6 C474.9,113.6 474.2,110.5 474.6,109.5"/>
<path class="l" d="M430.5,141.7 C430.2,143.1 426.9,146.8 428.8,148.5 C430.7,150.2 437.5,151.1 439.8,150.2 C442.2,149.2 440.5,145 440.7,143.7"/>
<path class="l" d="M458.5,90.8 L466.1,119.7 L467.8,124.7 L474.6,128.1"/>
<path class="l" d="M463.6,89.2 L470.3,111.2"/>
<path class="l" d="M445.8,103.6 L450.8,118 L454.2,121.4"/>
<path class="l" d="M442.4,107.8 L446.6,121.4"/>
<path class="l" d="M425.4,129.8 L431.4,144.2"/>
<path class="l" d="M410.2,140 L416.1,156.9"/>
<path class="l" d="M430.5,150.2 L432.2,159.5 L440.7,161.2 L444.1,156.9 L440.7,148.5"/>
<path class="l" d="M464.4,119.7 L465.3,124.7 L471.2,126.8"/>
<g transform="translate(479.66101694915255,129.83050847457628) rotate(25)"><rect x="-6" y="-3" width="9" height="6" class="f"/><rect x="1" y="-3.6" width="6" height="7.2" rx="2" fill="#555" stroke="#222" stroke-width=".8"/></g>
<path class="l" d="M465.3,84.9 L468.6,90.8 L472,98.5" style="stroke-width:1.6"/>
<path class="l" d="M467.8,84.4 L474.6,89.2 L479.7,90.8"/>
<path class="l" d="M403.4,150.2 L410.2,153.6 L406.8,156.9" style="stroke-width:1.4"/>
<path class="l" d="M429.7,189.7 C432.4,186.3 434.4,183.3 439.8,176.9 C445.3,170.6 442.8,172.9 450,165.9 C457.2,158.9 457.9,157.5 466.9,150.7 C476,143.9 476.7,144.1 483.9,140.5 C491.1,136.9 491.4,138 494.1,137.1"/>
<path class="l" d="M494.1,137.1 L500.8,135.4 L505.9,138.5 L511,137.1 L524.6,140.2"/>
<path class="l" d="M524.6,140.2 C527.3,142.5 530,143.9 534.7,149 C539.5,154 539.2,153.3 542.4,159.2 C545.5,165 545,164.2 546.6,171 C548.2,177.8 547.9,181 548.3,184.6"/>
<path class="l" d="M544.9,159.2 L557.6,166.8 L557.6,169.7 L550,173.1"/>
<path class="l" d="M433.1,204.9 C435.3,202.2 437,200.2 441.5,194.7 C446,189.3 443.7,192.3 450,184.6 C456.3,176.9 456.2,174.7 465.3,165.9 C474.3,157.1 474.4,156.9 483.9,151.5 C493.4,146.2 491.8,147.3 500.8,145.9 C509.9,144.6 510.1,144.3 517.8,146.4 C525.5,148.6 524.2,148.4 529.7,154.1 C535.1,159.7 535.4,160.4 538.1,167.6 C540.8,174.9 539.4,177.6 539.8,181.2"/>
<path class="l" d="M439.8,181.2 C442.5,178.2 442.8,177.2 450,170.2 C457.2,163.2 457.9,161.7 466.9,154.9 C476,148.1 476.2,148.4 483.9,144.7 C491.6,141.1 492.6,142.3 495.8,141.4"/>
<path class="l" d="M539.8,181.2 L542.4,185.8 L548.3,184.6"/>
<path class="l" d="M539.8,182 L495.8,204.9 L494.9,209.7 L490.7,210.3"/>
<path class="l" d="M535.6,179.8 L496.1,202.4"/>
<path class="l" d="M481.4,200.7 C482.7,200 483.7,197.9 486.4,198.1 C489.2,198.4 489.7,198.5 491.5,201.5 C493.4,204.6 492.9,207.5 493.4,209.7"/>
<path class="l" d="M483.9,201.5 C484.9,201.3 485.9,200 487.6,200.7 C489.3,201.4 489.5,201.5 490.3,204.1 C491.2,206.6 490.6,208.7 490.7,210.3"/>
<path class="l" d="M476.8,159.2 L477.6,196.8"/>
<path class="l" d="M479.2,158.3 L480,196.1"/>
<path class="l" d="M518.6,146.9 L487.6,197.8"/>
<path class="l" d="M520.8,148.1 L490,198.8"/>
<path class="l" d="M518.6,165.1 L524.6,163.1 L524.6,177.8 L519.2,179.8 Z"/>
<path class="l" d="M520.3,166.8 L523.2,165.9 L523.2,176.4 L520.3,177.5 Z"/>
<ellipse class="l" cx="491.5" cy="152.4" rx="2.5" ry="2.2" transform="rotate(0 491.5 152.4)"/>
<path class="l" d="M486.4,156.1 C486.9,154.7 486.2,152.5 488.1,150.7 C490.1,148.9 491.6,148.6 493.7,149.3 C495.9,150 495.5,152.2 496.1,153.2"/>
<path class="l" d="M522,151.5 C522.7,152.7 522.1,154 524.6,155.8 C527.1,157.6 528.9,156.9 531.4,158.3 C533.8,159.7 533.2,160.2 533.9,160.8"/>
<ellipse class="l" cx="533.1" cy="155.8" rx="1.5" ry="2" transform="rotate(0 533.1 155.8)"/>
<path class="l" d="M529.7,154.4 C531,157 533,158 534.7,164.2 C536.5,170.5 535.7,174.2 536.1,177.8"/>
<path class="l" d="M450,193.1 L472,206.9"/>
<path class="l" d="M451.7,190.5 L473.7,204.6"/>
<path class="l" d="M477.1,197.3 L472.9,205.8 L470.3,208.3"/>
<path class="l" d="M480,196.1 L487.6,197.8"/>
<path class="l" d="M428.5,245.4 C428.7,242.6 428.2,241.3 429.3,234.9 C430.5,228.5 429.5,230.8 432.7,221.4 C435.9,211.9 435.3,210.6 441.2,199.3 C447.1,188 446.6,188.9 454.7,179 C462.9,169 467.2,166.6 471.7,162"/>
<path class="l" d="M431.4,241.7 C432.2,238.1 432.7,234 434.4,228.1 C436.1,222.3 434.2,227.8 437.8,219.7 C441.4,211.5 442.1,207.6 448,197.6 C453.8,187.7 451.7,191 459.8,182.4 C468,173.8 473.5,169.9 478.5,165.4"/>
<path class="l" d="M428.5,245.4 L468.3,224.2"/>
<path class="l" d="M433.1,239.7 L464.9,221.7"/>
<ellipse class="f" cx="453.1" cy="216.6" rx="8.5" ry="10.5" transform="rotate(20 453.1 216.6)"/>
<ellipse class="l" cx="453.7" cy="217.1" rx="6.1" ry="7.8" transform="rotate(20 453.7 217.1)"/>
<ellipse class="l" cx="454.7" cy="217.6" rx="4.1" ry="5.4" transform="rotate(20 454.7 217.6)" style="stroke-width:1.3"/>
<path class="l" d="M464.9,221.7 C465.3,219.1 464,217 466.3,212 C468.5,207.1 468.3,206.7 473.4,203.1 C478.5,199.4 480.2,199.4 485.3,198.5 C490.3,197.6 489.9,198.1 492.4,199.7 C494.9,201.2 494.2,201.8 494.6,204.4 C494.9,207 494,208.1 493.7,209.5"/>
<path class="l" d="M468.6,224.2 C469,221.7 468.1,219.3 470,214.6 C471.9,209.8 471.9,210 475.9,206.4 C480,202.9 482.8,202.7 485.3,201.4"/>
<path class="l" d="M449.7,192.5 L470,209.5"/>
<path class="l" d="M451.7,190.8 L471.7,207.5"/>
<path class="l" d="M476.4,158.6 L478.1,195.9"/>
<path class="l" d="M478.8,158.3 L480.5,195.6"/>
<ellipse class="l" cx="429.7" cy="243.7" rx="1.2" ry="1.2" transform="rotate(0 429.7 243.7)"/>
<ellipse class="l" cx="466.9" cy="223.1" rx="1.2" ry="1.2" transform="rotate(0 466.9 223.1)"/>
<ellipse class="f" cx="406.4" cy="196.8" rx="6.4" ry="10.5" transform="rotate(18 406.4 196.8)"/>
<ellipse class="l" cx="406.9" cy="197.3" rx="4.7" ry="8.5" transform="rotate(18 406.9 197.3)"/>
<path class="l" d="M398.8,182.4 C397,184.2 394.4,185.1 392,189.2 C389.7,193.2 390,192.7 390,197.6 C390,202.6 391.5,205.1 392,207.8"/>
<ellipse class="f" cx="384.4" cy="206.9" rx="3.7" ry="4.4" transform="rotate(0 384.4 206.9)"/>
<ellipse class="l" cx="384.4" cy="206.9" rx="2.2" ry="2.7" transform="rotate(0 384.4 206.9)"/>
<ellipse class="f" cx="403.1" cy="209.2" rx="2.5" ry="2.9" transform="rotate(0 403.1 209.2)"/>
<ellipse class="l" cx="403.1" cy="209.2" rx="1.4" ry="1.7" transform="rotate(0 403.1 209.2)"/>
<path class="l" d="M398,212.9 L398,229.8" style="stroke-width:1.4"/>
<path class="l" d="M412.4,190.8 L420.8,177.3 L427.6,173.9 L432.7,189.2 L434.4,192.5"/>
<path class="l" d="M419.2,188.3 L437.8,198.5"/>
<path class="l" d="M415.8,195.9 L410.7,209.5 L406.4,219.7 L400.5,229.8"/>
<path class="l" d="M409,217.1 L428.5,227.3"/>
<path class="l" d="M402.2,240 L402.2,253.9 L410.7,256.9 L424.6,251.9 L428.5,255.6 L429,245.4"/>
<path class="l" d="M402.2,240 L414.4,243.4 L429.3,236.9"/>
<path class="l" d="M406.4,241.7 L406.4,255.3"/>
<path class="l" d="M410.7,242.7 L410.7,256.9"/>
<path class="l" d="M401.4,232.4 C402.3,230.6 402.5,226.5 405.6,224.7 C408.6,223 411.4,223.6 414.4,224.7 C417.4,225.9 417.2,227.1 418.3,229.8 C419.4,232.6 419,235 419.2,236.6"/>
<path class="l" d="M376.8,223.1 L376.8,240 L386.1,243.7 L402.2,251"/>
<path class="l" d="M376.8,223.1 L381.9,220.5 L386.9,224.7 L386.9,234.9"/>
<path class="l" d="M370,216.3 L402.2,232.4"/>
<path class="l" d="M386.9,229.8 L401.4,237.5" style="stroke-width:2.4;stroke:#555"/>
<path class="l" d="M370,170.5 L395.4,183.2"/>
<path class="l" d="M370,189.2 L381.9,195.1"/>
<path class="l" d="M370,197.6 L380.2,202.7"/>
<path class="l" d="M373.4,150.2 C374.2,152.1 375.8,154.7 376.8,158.6 C377.8,162.6 375.3,164 377.6,167.1 C380,170.3 382.8,171.2 386.9,172.2 C391.1,173.2 393.1,169.4 395.4,171.4 C397.8,173.3 396.7,178.5 397.1,180.7"/>
<path class="l" d="M386.9,151.9 C387.7,153.8 388,156.2 390.3,160.3 C392.7,164.5 393.6,167.1 397.1,169.7 C400.7,172.2 403,169.2 405.6,171.4 C408.2,173.5 407.5,177.2 408.1,179"/>
<ellipse class="l" cx="401.4" cy="173.9" rx="3.4" ry="4.7" transform="rotate(-25 401.4 173.9)"/>
<path class="l" d="M406.4,170.5 L427.6,153.6 L429.7,146.8 L441.2,143.4"/>
<path class="l" d="M409,173.9 L425.9,160.3"/>
<path class="l" d="M428.5,150.2 C428.7,151.8 427.5,154.6 429.3,156.9 C431.1,159.3 432.9,160.1 436.1,160.3 C439.3,160.5 441.5,160.6 442.9,157.8 C444.3,155 442.2,150.6 442,148.5"/>
<ellipse class="l" cx="435.3" cy="147.1" rx="1.7" ry="1.5" transform="rotate(0 435.3 147.1)"/>
<path class="l" d="M400.5,148.5 L403.9,156.1 L415.8,151.9 L413.2,145.1"/>
<path class="l" d="M403.9,151.9 L409,153.2" style="stroke-width:2"/>
</g>

<g id="lower">
<path class="l" d="M253.3,549.5 L258.7,547.8 L279.1,556.3 L277.4,553.7 L281.6,552 L289.2,558.8 L290.9,563.1 L293.5,565.1"/>
<path class="l" d="M253.3,549.5 L254,565.9"/>
<path class="l" d="M256.7,551.2 L257.5,597.8"/>
<path class="l" d="M260.4,563.9 L261.3,596.9"/>
<path class="l" d="M260.4,553.7 L264.7,555.4 L260.8,558"/>
<path class="f" d="M250.3,566.4 L260.4,562.2 L269.7,566.4 L269.7,569.8 L260.4,574.1 L251.1,570.7 Z"/>
<path class="l" d="M260.4,562.2 L260.4,574.1"/>
<ellipse class="l" cx="266.4" cy="560.8" rx="2" ry="1.2" transform="rotate(8 266.4 560.8)"/>
<ellipse class="l" cx="288.4" cy="575.8" rx="2.4" ry="1.5" transform="rotate(8 288.4 575.8)"/>
<path class="l" d="M283.3,574.9 C283.8,574.6 284.2,573.2 285.8,573.2 C287.5,573.2 290.3,573.9 291.8,574.9 C293.3,575.9 293.8,577.1 293.5,578.3 C293.1,579.5 291.9,580.5 290.1,580.8 C288.2,581.2 285.3,580.2 284.2,580"/>
<ellipse class="l" cx="280.8" cy="555.4" rx="1.5" ry="1" transform="rotate(8 280.8 555.4)"/>
<path class="l" d="M257.9,558.8 L314.7,589.3 L399.9,630"/>
<path class="l" d="M269.7,566.9 L313,588.5 L397.7,632.7" style="stroke-width:.8"/>
<path class="l" d="M277.4,571.5 L280.8,580 L316.4,597.8 L318.4,604.1"/>
<path class="l" d="M278.2,570.3 L314.7,588"/>
<path class="l" d="M293.5,565.1 L340.1,588.5 L375,612"/>
<path class="f" d="M313,589.3 L321.4,591 L320.6,593.7 L316.4,594.7 L318.4,604.1 L313.3,596.4 L313,589.3"/>
<ellipse class="l" cx="276.5" cy="594.4" rx="4.6" ry="5.8" transform="rotate(-20 276.5 594.4)" style="stroke-width:2"/>
<ellipse class="l" cx="276.7" cy="594.6" rx="2.7" ry="3.7" transform="rotate(-20 276.7 594.6)"/>
<path class="l" d="M257.5,597.8 C256.6,597.2 254.1,594.1 252.8,594.7 C251.5,595.4 250.9,598.5 251.1,601.2 C251.3,603.8 250.8,605.9 253.6,608 C256.5,610.1 260.1,609.9 265.5,611.7 C270.9,613.5 277.7,615.8 280.8,616.8"/>
<path class="f" d="M258.7,598.6 L270.6,603.9 L268.9,609.7 L257,605.6 Z"/>
<path class="l" d="M262.1,600.2 L260.8,606.6"/>
<path class="l" d="M266.4,602 L265,608.3"/>
<ellipse class="l" cx="254" cy="604.6" rx="1.4" ry="2" transform="rotate(0 254 604.6)" style="stroke-width:1.5"/>
<path class="l" d="M270.6,603.9 L276.5,606.3 L279.1,603.2"/>
<path class="l" d="M279.9,601.2 C281.1,602.4 281.3,605.4 285.8,607.1 C290.4,608.8 298.7,608.5 302.8,609.7 C306.9,610.8 305.8,610.7 306.2,613.1 C306.5,615.4 304.8,619.8 304.5,621.5"/>
<path class="l" d="M278.7,604.6 C279.8,605.8 280,608.7 284.2,610.5 C288.3,612.3 296.4,612.8 299.4,613.4"/>
<path class="l" d="M280.8,616.8 L289.2,621.5 L304.5,621.5"/>
<path class="l" d="M268.9,609.7 L274.8,614.7 L280.8,616.8"/>
<path class="l" d="M306.2,613.1 L313,624.9 L312.1,645.3 L311.3,665.6"/>
<path class="l" d="M313,646.9 C313.6,645.3 314.3,642.9 316.4,638.5 C318.4,634.1 321.9,629.3 323.1,624.9 C324.3,620.6 321.3,618.3 322.3,616.8 C323.3,615.3 326.9,615.2 328.2,617.5 C329.6,619.8 329.4,624.8 329.1,628.3 C328.7,631.8 328.4,631.6 326.5,635.1 C324.7,638.5 321.1,643.5 319.7,645.6"/>
<path class="l" d="M319.7,645.6 L320.8,670.7"/>
<path class="l" d="M314.7,648.6 C315.4,646.9 316.4,644.1 318.4,640.2 C320.4,636.3 323.5,632.9 324.8,629.2 C326.2,625.4 325.1,623.1 325.2,621.5"/>
<path class="l" d="M327.4,646.9 C328.4,644.2 330.9,638.3 332.5,633.4 C334,628.5 333.7,624.4 335,622.5 C336.3,620.7 337.9,622.4 338.7,624.2 C339.6,626.1 339.6,628.8 339.2,631.7 C338.8,634.5 337.7,635.4 336.7,638.5 C335.7,641.5 334.7,645.3 334.2,646.9"/>
<path class="l" d="M334.2,646.9 L336.7,659.2 L343.5,669.3"/>
<path class="l" d="M329.2,648.6 C330.2,646.1 332.7,640.2 334.2,635.9 C335.6,631.7 335.9,629.2 336.4,627.5"/>
<path class="l" d="M319.7,645.6 L327.4,646.9 L327.4,670"/>
<ellipse class="l" cx="330.8" cy="654.6" rx="1.9" ry="2.2" transform="rotate(0 330.8 654.6)"/>
<ellipse class="l" cx="329.9" cy="665.6" rx="1.9" ry="2.2" transform="rotate(0 329.9 665.6)"/>
<path class="l" d="M311.3,665.6 L320.8,670.7"/>
<path class="l" d="M345.5,678.8 L361.2,670.5 L362,612.5"/>
<path class="l" d="M340,603 L340.5,625 L338.8,626.2"/>
<path class="l" d="M362,670.5 L378,674 L395,678 L405.5,673 L416.8,670.5"/>
<path class="l" d="M395,635.5 L396.2,675.5"/>
<path class="l" d="M365,613.8 L366.2,667.5 L378,671"/>
<ellipse class="l" cx="361.2" cy="600.8" rx="2" ry="1.8" transform="rotate(0 361.2 600.8)"/>
<ellipse class="l" cx="397.5" cy="617" rx="2.2" ry="1.8" transform="rotate(0 397.5 617)"/>
<ellipse class="l" cx="345" cy="599" rx="1.8" ry="1.2" transform="rotate(0 345 599)"/>
<path class="l" d="M355,600 L360,597.5 L365,602.5 L375,605.5 L376.2,610"/>
<g transform="translate(318.75,576.25) rotate(-35)"><rect x="-9" y="-3.5" width="18" height="7" class="f"/><ellipse cx="4" cy="0" rx="4" ry="3" class="l" style="stroke-width:1.3"/><path class="l" d="M-7,-3.5 L-7,3.5 M-4,-3.5 L-4,3.5 M-1,-3.5 L-1,3.5"/></g>
<path class="f" d="M314.7,526.6 L330.8,529.2 L335.1,533.4 L320.7,539 L314.7,537.3 L314.7,526.6"/>
<path class="l" d="M314.7,526.6 L318.1,530.8 L314.7,531.9"/>
<ellipse class="l" cx="324.4" cy="531.9" rx="3.1" ry="1.7" transform="rotate(8 324.4 531.9)"/>
<path class="l" d="M314.7,531.9 L309.7,535.1 L308.8,538.6"/>
<path class="l" d="M308.8,538.6 C308.3,541.4 309.2,542.5 307.1,547.8 C305.1,553.1 306.6,551.7 302,556.3 C297.5,560.8 294.9,561 291.9,563.1"/>
<path class="l" d="M312.2,538.5 C311.7,541.5 312.5,542.8 310.5,548.6 C308.5,554.5 310,552.9 305.4,558 C300.8,563.1 298.3,563.3 295.3,565.6" style="stroke-width:1.5"/>
<path class="l" d="M315.6,538 C315.1,541.2 315.9,542.1 313.9,548.6 C311.9,555.2 313.4,553.8 308.8,559.7 C304.2,565.5 301.7,565.6 298.6,568.1"/>
<path class="l" d="M291.9,563.1 L288.5,559.7 L283.4,558.3"/>
<path class="l" d="M291.9,563.1 L293.2,567.3 L298.6,568.1"/>
<path class="l" d="M320.7,539 L320.3,547.8"/>
<path class="l" d="M335.1,533.4 L338.5,534.6 L344.4,542.7 L351.2,543.7"/>
<path class="f" d="M354.6,502 L357.1,505.4 L371.5,509.2 L383.7,504.7 L376.6,500.3 L354.6,502"/>
<ellipse class="l" cx="356.6" cy="505.8" rx="2.9" ry="1.5" transform="rotate(8 356.6 505.8)"/>
<ellipse class="l" cx="366.4" cy="508.1" rx="2.9" ry="1.5" transform="rotate(8 366.4 508.1)"/>
<path class="l" d="M354.6,502 L354.2,510.5 L351.2,513.9"/>
<path class="l" d="M354.2,510.5 C353.3,513.6 354.1,514.6 351.2,520.7 C348.2,526.8 348.2,526.5 344.4,530.8 C340.6,535.2 340.3,533.8 338.5,535.1" style="stroke-width:1.5"/>
<path class="l" d="M361.4,513.9 C360.8,516.9 362.2,517.5 359.7,524.1 C357.1,530.7 356.9,530.6 352.9,535.9 C348.8,541.3 348.1,540.1 346.1,541.9"/>
<path class="l" d="M364.7,514.7 C364.5,518.1 365.9,518.9 363.9,525.8 C361.9,532.6 361.8,532.2 358,537.6 C354.2,543 353.2,541.9 351.2,543.7"/>
<path class="l" d="M361.4,508 L361.4,513.9"/>
<path class="l" d="M364.7,508.8 L364.7,514.7"/>
<path class="l" d="M371.5,509.2 L383.7,504.7 L388.5,498.6"/>
<path class="l" d="M336.8,575.8 C337.5,572.5 336,570.6 339.3,564.7 C342.6,558.9 342.7,559.7 347.8,556.3 C352.9,552.8 351.4,553.2 356.3,553.2 C361.1,553.2 360.6,552.8 363.9,556.3 C367.2,559.7 366.1,559.2 367.3,564.7 C368.5,570.3 367.5,567.8 367.8,574.9 C368.1,582 368,584.4 368.1,588.5"/>
<path class="l" d="M337.6,574.1 L359.7,564.7"/>
<path class="l" d="M336.8,581.7 L364.7,568.1"/>
<path class="l" d="M336.8,575.8 L336.8,590.2 L344.4,588.5 L346.1,591"/>
<path class="l" d="M357.1,574.9 L357.6,598.6"/>
<path class="f" d="M374.1,563.4 L377.5,560.5 L385.1,563.1 L388.5,565.8 L381.7,569.2 L376.6,567.5 L374.1,563.4"/>
<ellipse class="l" cx="380.3" cy="564.6" rx="2.7" ry="1.7" transform="rotate(8 380.3 564.6)"/>
<path class="l" d="M375.3,567.3 C374.9,570.6 376.2,571.4 374.1,578.3 C371.9,585.2 372.2,584.1 368.1,590.2 C364.1,596.3 362.8,596.1 360.5,598.6"/>
<path class="l" d="M377.5,568.1 C376.9,571.7 378.1,572.9 375.8,580 C373.5,587.1 373.6,585.8 369.8,591.9 C366,598 365.1,597.8 363.1,600.3"/>
<ellipse class="l" cx="361.4" cy="600.7" rx="2" ry="1.7" transform="rotate(0 361.4 600.7)" style="stroke-width:1.5"/>
<ellipse class="l" cx="354.6" cy="601.4" rx="1.4" ry="1.2" transform="rotate(0 354.6 601.4)"/>
<path class="l" d="M388.5,565.8 C389.4,566.4 389.2,567.7 391.9,568.1 C394.6,568.5 395.5,569.5 398.6,567.3 C401.8,565 401.7,564 403.7,559.7 C405.8,555.4 404.6,554.6 406.3,551.2 C407.9,547.8 409,548.1 410,546.9"/>
<path class="l" d="M386.2,471.2 L397.5,470 L400,475 L410,478.8"/>
<path class="l" d="M386.2,471.2 L383.8,507.5"/>
<path class="l" d="M397.5,470 L400,495"/>
<path class="l" d="M385,485 L400,481.2"/>
<path class="l" d="M384.5,496.2 L400,491.2"/>
<path class="l" d="M383.8,507.5 C385.6,509 385.1,512.1 390,512.5 C394.9,512.9 394.8,513.2 400,508.8 C405.2,504.2 404.1,505.4 407.5,497.5 C410.9,489.6 410.1,487 411.2,482.5" style="stroke-width:1.5"/>
<path class="l" d="M387.5,506.2 C390.5,505.5 392.4,507.1 397.5,503.8 C402.6,500.4 401.5,501.4 404.5,495 C407.5,488.6 406.6,486.2 407.5,482.5"/>
<ellipse class="l" cx="407.5" cy="479.5" rx="1.8" ry="1.5" transform="rotate(0 407.5 479.5)"/>
<path class="l" d="M416.8,492.5 C415.3,494.5 413.1,494.7 411.2,500 C409.4,505.3 409.7,506.5 410,512.5 C410.3,518.5 410.7,519.2 412.5,522.5 C414.3,525.8 415.6,524.3 416.8,525"/>
<path class="l" d="M416.8,555 C414.6,557 412.4,557.8 408.8,562.5 C405.1,567.2 404.5,569.8 403,572.5"/>
<path class="l" d="M400,630.5 L416.8,622.5"/>
<path class="l" d="M397.5,633.8 L405,637.5 L416.8,632.5"/>
<path class="l" d="M412.5,597.5 L416.8,610"/>
<path class="l" d="M395,622.5 C395.6,620.9 395.2,617.8 397.5,615.5 C399.8,613.2 401.8,612.6 405,612.5 C408.2,612.4 409.8,614.4 411.2,615"/>
<path class="l" d="M405.8,474.5 L418.8,480.5 L424.5,478.8 L432,483 L462,500 L464,504 L478.2,514 L512,534.5 L539.5,549 L542,555 L540.8,563"/>
<ellipse class="l" cx="434.5" cy="490.5" rx="1.9" ry="1.2" transform="rotate(8 434.5 490.5)"/>
<ellipse class="l" cx="454.5" cy="508" rx="1.9" ry="1.2" transform="rotate(8 454.5 508)"/>
<ellipse class="l" cx="479.5" cy="520" rx="1.9" ry="1.2" transform="rotate(8 479.5 520)"/>
<ellipse class="l" cx="510.8" cy="537.5" rx="1.9" ry="1.2" transform="rotate(8 510.8 537.5)"/>
<ellipse class="l" cx="534.5" cy="551.2" rx="1.9" ry="1.2" transform="rotate(8 534.5 551.2)"/>
<path class="l" d="M417.6,480.3 L421.7,483.2 L409.4,516.6 L408.8,530.7"/>
<path class="l" d="M421.7,483.2 L429.6,492.2"/>
<path class="l" d="M442.5,495 L452.2,500.2 L445.2,507.8 L444.6,514.3 L444,530.1 L441.1,533.1 L409.4,516.6"/>
<path class="l" d="M423.5,484.4 L411.7,513.1 L441.1,530.7"/>
<path class="l" d="M429.9,492.6 C429.4,494.6 428.6,496.6 427.9,500.2 C427.3,503.8 427.1,502.9 427.6,506.1 C428.1,509.2 428.2,510.1 429.9,511.9 C431.7,513.8 431.7,514.1 434,513.1 C436.4,512.2 436.9,511.6 438.7,508.4 C440.6,505.3 440.1,504.9 441.1,501.4 C442,497.9 441.9,496.9 442.3,495.3"/>
<path class="l" d="M431.9,494.3 C431.5,496.2 430.7,498.3 430.3,501.4 C429.8,504.5 429.7,503.7 430.3,506.1 C430.8,508.4 431.2,508.9 432.3,510.2 C433.3,511.4 433.7,510.6 434.3,510.8"/>
<path class="l" d="M452.2,500.2 L461,504.3"/>
<path class="l" d="M446.9,509.6 L456.3,514.3"/>
<path class="l" d="M445.2,515.5 L456.3,521.6"/>
<path class="l" d="M456.3,514.3 L457.5,540.1" style="stroke-width:1.4"/>
<path class="l" d="M464,514.3 L464.6,530.7"/>
<ellipse class="l" cx="455.2" cy="508" rx="1.5" ry="1.1" transform="rotate(8 455.2 508)"/>
<path class="l" d="M457,513.6 L457.9,540.7"/>
<path class="l" d="M460.4,514.4 L461.3,540.7" style="stroke-width:1.5"/>
<path class="l" d="M464.7,514.4 C465.8,516.9 468.3,516.8 468.4,522.9 C468.5,529 468.6,528.1 465,534.7 C461.4,541.4 460.4,540.7 456.5,544.9 C452.6,549.1 453.3,547.5 451.9,548.6" style="stroke-width:2"/>
<path class="l" d="M467.7,517.8 C468.6,519.8 470.7,519 470.6,524.6 C470.4,530.2 470.8,529.6 467.2,536.4 C463.6,543.3 462.8,542.9 458.7,547.5 C454.7,552 455.2,550.4 453.6,551.7" style="stroke-width:1.4"/>
<path class="l" d="M469.7,521.2 C470.5,523 472.4,522 472.3,527.1 C472.2,532.2 472.7,531.3 469.4,538.1 C466.1,545 465.2,545.2 461.3,550 C457.3,554.8 457.7,553 456.2,554.2"/>
<path class="l" d="M486.7,524.6 C486.2,528.6 488.1,530 485,538.1 C481.9,546.3 482.1,544.6 476.5,551.7 C470.9,558.8 469.4,558.8 466.4,561.9"/>
<path class="l" d="M490.1,526.3 C489.6,530.8 491.4,532.9 488.4,541.5 C485.3,550.2 485.5,548 479.9,555.1 C474.3,562.2 472.8,562.2 469.7,565.3"/>
<path class="l" d="M501.9,531.7 C501.4,535.7 502.8,536.9 500.3,544.9 C497.7,552.9 498.6,551.8 493.5,558.5 C488.4,565.2 486.4,564.6 483.3,567.3"/>
<path class="l" d="M477.4,521.2 C477.1,524.7 478.8,525.4 476.5,533.1 C474.2,540.7 474.1,540 469.7,546.6 C465.4,553.2 464.4,552.5 462.1,555.1"/>
<path class="l" d="M493.5,529.7 L493.8,544.9"/>
<path class="l" d="M509.6,538.1 L507.9,551.7 L503.6,560.2"/>
<path class="l" d="M413,539.8 C414.5,539.2 417,536.4 420.6,536.4 C424.2,536.4 427.7,538.3 430.8,539.8 C433.8,541.4 433.9,542.7 435.8,544.2 C437.7,545.8 437.9,546.7 440.3,547.6 C442.6,548.5 446.2,548.4 447.7,548.6"/>
<ellipse class="l" cx="421.4" cy="540.2" rx="3.7" ry="2" transform="rotate(8 421.4 540.2)"/>
<path class="l" d="M418.9,548.3 C418.2,551.4 419.6,552.4 416.5,558.5 C413.5,564.6 414.6,564 408.7,568.6 C402.8,573.3 401.9,574 396.9,574.1 C391.8,574.2 395.3,572.6 391.8,569 C388.2,565.3 387,564 385,561.9"/>
<path class="l" d="M413,539.8 C411.8,543.4 412.8,545.1 409.1,551.7 C405.4,558.3 406.3,557.2 400.6,561.9 C394.9,566.5 393.2,565.7 390.1,567.3"/>
<path class="l" d="M418.9,544.9 L418.9,548.6"/>
<path class="l" d="M435.8,544.2 L439.2,541.5 L443.5,544.9"/>
<path class="l" d="M450.3,550 L449.4,590"/>
<path class="l" d="M452.8,555.1 L454.5,590"/>
<path class="l" d="M459.6,558.5 L460.4,568.6"/>
<path class="l" d="M450.3,550 C450.7,549.1 450.4,547.3 451.9,546.6 C453.5,545.9 454.8,546.1 456.2,547.5 C457.5,548.8 456.8,550.6 457,551.7" style="stroke-width:1.5"/>
<path class="l" d="M451.9,558.5 C453.1,557.8 453.7,555.9 456.2,555.9 C458.7,555.9 459.7,556.4 461.3,558.5 C462.9,560.5 461.9,562.2 462.1,563.6"/>
<path class="l" d="M452,509.5 L479.2,524.4 L483.9,522 L488.5,525.3 L499.5,532.5 L502.9,539.7 L511.4,541.4 L522.4,548.5 L531.7,552.9"/>
<path class="l" d="M446.1,504.4 L452,509.5"/>
<path class="l" d="M458.8,504.4 C458,504.4 457,503.8 455.4,504.4 C453.8,505 452.6,505.6 452,507.1 C451.4,508.6 452.7,510 452.9,510.8"/>
<path class="l" d="M484.6,517.3 C483.7,517.2 482.4,516.3 480.8,516.8 C479.3,517.3 478.4,517.7 477.8,519.3 C477.2,520.9 478.2,522.6 478.3,523.6"/>
<path class="l" d="M514.7,534.6 C513.9,534.7 512.5,534.2 511,534.9 C509.5,535.6 508.8,536.2 508.3,537.6 C507.8,539.1 508.7,540.2 508.8,541"/>
<path class="l" d="M511.4,541.4 L511.7,551.5"/>
<path class="l" d="M514.7,543.4 L514.7,552.9"/>
<path class="l" d="M488.5,526.1 C488.2,530.2 489.9,531 487.6,539.7 C485.3,548.3 485.9,547.2 480.8,554.9 C475.8,562.6 473.7,562.3 470.7,565.4"/>
<path class="l" d="M499.5,532.9 C499,537.5 500.8,538.5 497.8,548.1 C494.7,557.8 494.4,557.9 489.3,565.1 C484.2,572.3 483.4,570.1 480.8,572.2"/>
<path class="l" d="M537,558 L484.5,584.2 L417,623 L396.5,633.8"/>
<path class="l" d="M527,553 L479.5,576.2 L482.5,580"/>
<path class="l" d="M482.5,580 L417,615 L402,622.5"/>
<path class="l" d="M536.5,560 L485.8,585.5" style="stroke-width:1.3"/>
<ellipse class="l" cx="510.8" cy="565.5" rx="3.5" ry="2.5" transform="rotate(0 510.8 565.5)"/>
<ellipse class="l" cx="510.8" cy="565.5" rx="1.8" ry="1.2" transform="rotate(0 510.8 565.5)"/>
<ellipse class="l" cx="427" cy="593" rx="3" ry="2.2" transform="rotate(0 427 593)"/>
<path class="l" d="M540.8,563 C540.4,568.1 541.8,568.1 539.5,580 C537.2,591.9 538.5,589 533.2,602.5 C528,616 530.6,611.5 522,625 C513.4,638.5 515.8,635.5 504.5,647.5 C493.2,659.5 497.2,656.6 484.5,665 C471.8,673.4 474.8,673.1 462,675.5 C449.2,677.9 452.5,676 442,673 C431.5,670 434.5,672.4 427,665.5 C419.5,658.6 420.8,659.1 417,650 C413.2,640.9 415.2,639.5 414.5,635"/>
<path class="l" d="M535,565.5 C534.2,571.4 535.5,572.4 532.5,585 C529.5,597.6 531,594 525,607.5 C519,621 520.8,618 512.5,630 C504.2,642 507.4,638.4 497.5,647.5 C487.6,656.6 490.1,654.7 479.5,660.5 C468.9,666.3 472.5,665.2 462,666.8 C451.5,668.2 454.2,668.3 444.5,665.5 C434.8,662.7 436.2,663.6 429.5,657.5 C422.8,651.4 424.2,648.8 422,645"/>
<path class="l" d="M530.8,568.8 C530,574 531.2,574.6 528.2,586.2 C525.2,597.9 526.4,595.5 520.8,607.5 C515.1,619.5 517.4,615.6 509.5,626.2 C501.6,636.9 503.9,634.4 494.5,643 C485.1,651.6 483.1,651.4 478.2,655"/>
<path class="l" d="M542,567.5 L548.5,570.5 L547,575.5 L540.8,574.2"/>
<path class="l" d="M462.9,568.8 C463.9,568.1 465.3,566.6 468,565.4 C470.7,564.2 473.7,562.5 476.4,562.9 C479.2,563.2 480.7,564.7 481.5,567.1 C482.4,569.5 480.8,573.2 480.7,574.7"/>
<ellipse class="l" cx="470.2" cy="568" rx="3.4" ry="2" transform="rotate(8 470.2 568)"/>
<path class="l" d="M480.7,574.7 L480,584.4"/>
<path class="l" d="M484.4,584.9 L483.7,590.8"/>
<path class="l" d="M462.9,568.8 C462.7,571.5 463.6,573.1 462,579 C460.5,584.9 460.6,585.4 456.9,590.8 C453.3,596.3 453,596.1 448.5,599.3 C444,602.6 442.3,602.1 440,603.1"/>
<path class="l" d="M480,584.4 C479.3,587.5 479.8,590.1 477.3,595.9 C474.8,601.7 474.1,602.4 470.5,606.1 C466.9,609.8 467.3,609.2 463.7,609.8 C460.1,610.5 458.8,609 456.9,608.6"/>
<path class="l" d="M484.4,585.4 C484.1,588.2 485.3,590 483.2,595.9 C481.1,601.9 480.5,603.6 476.4,607.8 C472.4,612 471.8,610.8 468,611.5 C464.1,612.2 463.6,610.7 462,610.3" style="stroke-width:1.5"/>
<path class="l" d="M476.4,562.9 C476.3,565.8 477.1,567.8 475.9,573.9 C474.8,580 475,579.9 472.2,585.8 C469.4,591.6 469.9,591.3 465.4,595.9 C460.9,600.5 460.2,600.6 455.3,603.1 C450.3,605.5 449,604.7 446.8,605.3"/>
<path class="l" d="M440,603.1 L445.1,606.9 L456.9,608.6"/>
<path class="l" d="M521.4,551 L532.4,556.9 L531.5,561.2"/>
<path class="l" d="M506.9,565.8 C507.9,565.1 509,563.1 511.2,563.1 C513.4,563 515.1,564.9 516.3,565.4"/>
<path class="l" d="M528.1,585.8 C526.9,590.3 527.5,591.9 523.9,601 C520.3,610.2 521.6,607.6 516.3,616.3 C510.9,624.9 512.7,622.2 506.1,629.8 C499.5,637.5 501.9,635.1 494.2,641.7 C486.6,648.3 484.7,648.8 480.7,651.9"/>
<path class="l" d="M471.4,612.9 L472.2,641.7 L476.4,662 L480.7,665.8" style="stroke-width:1.5"/>
<path class="l" d="M473.9,612.9 L474.7,641.7 L479.8,663.7"/>
<path class="l" d="M462,607.8 L446.8,641.7 L440,655.6" style="stroke-width:1.4"/>
<path class="l" d="M464.6,609.2 L449.3,642.5 L441.7,658.6"/>
<path class="l" d="M485.8,597.6 L521.4,619.7" style="stroke-width:1.3"/>
<path class="l" d="M484.1,599.7 L519.7,622.4"/>
<path class="l" d="M487.5,595.6 L523.1,617.6"/>
<path class="f" d="M492.5,589.2 L506.1,594.2 L507.8,606.4 L495.9,602.7 L492.5,589.2"/>
<ellipse class="f" cx="507.1" cy="600.7" rx="2.7" ry="5.8" transform="rotate(8 507.1 600.7)"/>
<ellipse class="l" cx="507.5" cy="601" rx="1.4" ry="3.7" transform="rotate(8 507.5 601)"/>
<path class="l" d="M505.3,580.7 L505.3,591.7"/>
<path class="l" d="M512.9,575.9 L514.6,611.2"/>
<path class="l" d="M519.7,578.1 L521,612.9"/>
<path class="l" d="M505.3,580.7 C506.6,580.1 507.8,578.7 511.2,578.1 C514.5,577.5 517.7,578.1 519.7,578.1"/>
<path class="l" d="M489.2,584.4 L490.8,595.9"/>
<path class="l" d="M495.9,581.5 L496.8,590.8"/>
<path class="l" d="M521.4,570.5 L534.9,582.4"/>
<path class="l" d="M524.7,585.8 L521.7,614.6"/>
<path class="l" d="M532.4,568.8 L529.8,584.1"/>
<path class="l" d="M493.4,641.7 C493.6,640.1 492.7,637.9 494.2,635.8 C495.8,633.6 496.7,633.3 499.3,633.6 C501.9,633.8 502.7,634 504.1,636.6 C505.4,639.2 504.3,641.6 504.4,643.4"/>
<ellipse class="l" cx="498.5" cy="641.4" rx="3.7" ry="5.4" transform="rotate(20 498.5 641.4)"/>
<path class="l" d="M450.2,665.4 C450.6,664.2 450.1,662.3 451.9,660.7 C453.7,659.1 454.5,658.9 456.9,659.5 C459.4,660.1 460.1,662 461.2,662.9"/>
<ellipse class="l" cx="461.2" cy="670.5" rx="1.7" ry="2" transform="rotate(0 461.2 670.5)"/>
<path class="l" d="M474.7,641.7 L495.9,628.1"/>
<path class="l" d="M450.2,628.1 L472.2,634.9"/>
<path class="l" d="M443.4,648.5 L472.2,651.9"/>
<path class="l" d="M440,634.9 C442.7,634 444.3,631.5 450.2,631.5 C456,631.5 456.4,632.2 462,634.9 C467.7,637.6 468.9,639.9 471.4,641.7"/>
<ellipse class="l" cx="535.8" cy="551.9" rx="1.7" ry="1.4" transform="rotate(0 535.8 551.9)"/>
<path class="l" d="M450.2,546.8 L452.7,567.1"/>
<path class="l" d="M456.9,550.2 L458.6,565.4"/>
<path class="l" d="M450.2,546.8 C451,546 451.2,543.8 453.6,543.4 C455.9,543 458.4,542.3 460.3,545.1 C462.3,547.9 461.6,552.9 462,555.3" style="stroke-width:1.5"/>
<path class="l" d="M487.5,540 C488.4,542.7 490.4,544.7 490.8,550.2 C491.3,555.6 489.6,557.6 489.2,560.3"/>
<path class="l" d="M497.6,540 C498.3,542.3 499.9,544.2 500.2,548.5 C500.4,552.8 498.9,554.1 498.5,556.1"/>
<path class="l" d="M340,603.8 L341.3,668.1 L350,676.6 L370,665.6 L370,625.6"/>
<path class="l" d="M370,665.6 L397.6,677.6 L415.1,674.1 L422.6,668.1 L424.1,658.1"/>
<path class="l" d="M397.6,635.1 L397.6,677.6"/>
<path class="l" d="M405.6,637.6 L405.6,673.1"/>
<path class="l" d="M344.5,610.1 L345.5,665.1 L350,670.1"/>
<path class="l" d="M412.6,635.1 L413.1,645.1 L420.1,646.4"/>
<path class="l" d="M415.1,648.9 C415.8,650.6 416.8,653.2 418.1,656.4 C419.4,659.6 420,661.2 420.6,662.6" style="stroke-width:1.4"/>
<path class="l" d="M393.8,632.6 L401.3,633.1 L402.6,631.3"/>
<path class="l" d="M391.3,620.1 L393.8,632.6"/>
<ellipse class="l" cx="399.3" cy="629.6" rx="1.8" ry="1.5" transform="rotate(0 399.3 629.6)"/>
<ellipse class="l" cx="395.6" cy="618.1" rx="2" ry="1.5" transform="rotate(0 395.6 618.1)"/>
<ellipse class="l" cx="366.3" cy="616.3" rx="1.8" ry="1.3" transform="rotate(0 366.3 616.3)"/>
<ellipse class="l" cx="419.6" cy="618.1" rx="2" ry="1.5" transform="rotate(0 419.6 618.1)"/>
<path class="l" d="M415.1,621.3 C415.2,620.2 413.8,617.8 415.6,616.3 C417.3,614.9 420.1,614.5 422.6,615.1 C425.1,615.7 425.5,617.9 426.4,618.8"/>
<path class="l" d="M412.6,600.1 C413.2,598.6 412.8,596.4 415.1,593.8 C417.4,591.2 417.6,589.7 422.6,588.8 C427.6,587.9 432.3,588 436.4,590 C440.5,592.1 439.5,594.3 440.1,597.5 C440.7,600.8 439.2,602.5 438.9,604.1"/>
<ellipse class="l" cx="427.6" cy="592" rx="3.3" ry="2.3" transform="rotate(0 427.6 592)"/>
<path class="l" d="M412.6,600.1 L413.1,610.1 L405.6,613.8 L393.8,620.1"/>
<path class="l" d="M417.6,597.5 L418.1,607.6"/>
<path class="l" d="M438.9,604.1 L422.6,611.3 L413.1,610.1"/>
<path class="l" d="M422.6,611.3 L423.9,616.3"/>
<ellipse class="l" cx="391.3" cy="592.5" rx="1.3" ry="3" transform="rotate(0 391.3 592.5)"/>
<path class="l" d="M459.6,608.1 L439.6,665.1" style="stroke-width:1.3"/>
<path class="l" d="M462.7,610.1 L443.1,666.4"/>
<ellipse class="l" cx="443.9" cy="640.6" rx="4.5" ry="7.5" transform="rotate(15 443.9 640.6)"/>
<path class="l" d="M422.6,628.1 L470.2,643.1"/>
<path class="l" d="M426.4,625.6 L440.1,630.1"/>
<path class="l" d="M426.4,642.6 C425.7,640.6 423.9,639 423.9,635.1 C423.9,631.2 425.7,630 426.4,628.1"/>
</g>

<g class="t" transform="rotate(0.02)">
<text x="226.60" y="48.75">2</text>
<text x="499.10" y="57.5">2</text>
<text x="202.90" y="126.25">1</text>
<text x="615.40" y="203.4">2</text>
<text x="212.50" y="254.5">6</text>
<text x="546.50" y="299.5">4</text>
<text x="65.90" y="248">15</text>
<text x="525.25" y="338">8</text>
<text x="95.50" y="473.5">3</text>
<text x="165.40" y="478.75">13</text>
<text x="288.35" y="408.75">2</text>
<text x="585.65" y="430">7</text>
<text x="334.40" y="453.9">1</text>
<text x="212.80" y="516.25">4</text>
<text x="155.60" y="543.75">2</text>
<text x="588.35" y="528.75">2</text>
<text x="609.50" y="596.25">5</text>
<text x="171.20" y="655.6">4</text>
<text x="695.15" y="675.5">14</text>
<text x="490.90" y="737.5">11</text>
<text x="621.35" y="762">2</text>
<text x="504.15" y="816.75">12</text>
<text x="224.50" y="907">9</text>
<text x="454.65" y="904.25">10</text>
<text x="578" y="83.8" style="font-size:15.4px">© 2013 Polaris Sales Inc.</text>
</g>
<!--WATERMARK-->
<defs><filter id="wm" x="-5%" y="-20%" width="110%" height="140%" color-interpolation-filters="sRGB">
<feMorphology in="SourceAlpha" operator="dilate" radius="0.6" result="fat"/>
<feMorphology in="SourceAlpha" operator="dilate" radius="2" result="fatter"/>
<feFlood flood-color="#666" result="c1"/><feComposite in="c1" in2="fatter" operator="in" result="rim"/>
<feFlood flood-color="#bababa" result="c2"/><feComposite in="c2" in2="fat" operator="in" result="body"/>
<feMerge><feMergeNode in="rim"/><feMergeNode in="body"/></feMerge></filter></defs>
<g opacity="0.45" transform="translate(105,923.5) rotate(-54.7) scale(1.283,1)" style="font-family:'Liberation Sans',sans-serif;font-weight:bold;font-size:66px">
<text x="0" y="0" dx="-2.3 0 0 6.3 -4" fill="#000" filter="url(#wm)">www.polarisersatzteile.de</text>
</g>
</svg>
</body></html>
